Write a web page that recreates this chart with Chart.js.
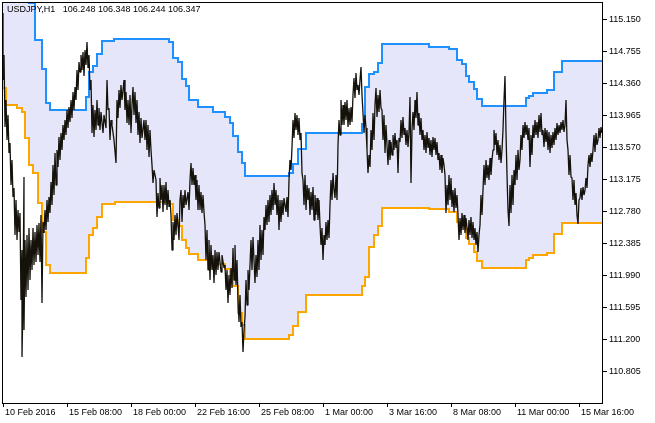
<!DOCTYPE html>
<html>
<head>
<meta charset="utf-8">
<script src="https://cdn.jsdelivr.net/npm/chart.js@4.4.1/dist/chart.umd.min.js"></script>
<style>
  html, body { margin: 0; padding: 0; background: #fff; }
  canvas { display: block; }
</style>
</head>
<body>
<canvas id="chart" width="655" height="423"></canvas>
<script>
// header line of the chart window
const symbolTitle = 'USDJPY,H1   106.248 106.348 106.244 106.347';

// visible window, in hourly bars
const firstBar = 2;
const lastBar = 602;

// time axis
const timeTickBars = [3, 67, 131, 195, 259, 323, 387, 451, 515, 579];
const timeTickLabels = ['10 Feb 2016', '15 Feb 08:00', '18 Feb 00:00', '22 Feb 16:00', '25 Feb 08:00',
  '1 Mar 00:00', '3 Mar 16:00', '8 Mar 08:00', '11 Mar 00:00', '15 Mar 16:00'];

// price axis
const priceMin = 110.4216;
const priceMax = 115.3722;
const priceTicks = [115.150, 114.755, 114.360, 113.965, 113.570, 113.175, 112.780, 112.385,
  111.990, 111.595, 111.200, 110.805];

// channel lines [bar, price], value holds from that bar on
const upperBand = [
  [2,115.5],[29,115.36],[35,114.903],[42,114.545],[46,114.125],[50,114.039],[86,114.199],[89,114.508],
  [93,114.582],[97,114.730],[102,114.891],[114,114.915],[169,114.878],[173,114.681],[178,114.632],
  [182,114.422],[186,114.335],[189,114.162],[198,114.076],[213,114.014],[225,113.952],[230,113.878],
  [233,113.718],[238,113.520],[242,113.384],[245,113.224],[289,113.261],[293,113.372],[298,113.557],
  [306,113.755],[362,113.866],[365,114.323],[369,114.483],[374,114.508],[378,114.619],[382,114.854],
  [429,114.817],[449,114.792],[457,114.656],[462,114.607],[466,114.459],[469,114.384],[474,114.298],
  [477,114.174],[482,114.088],[526,114.187],[529,114.211],[533,114.248],[547,114.286],[554,114.508],
  [562,114.644],[602,114.644]
];
const lowerBand = [
  [2,114.310],[6,114.100],[17,114.063],[22,114.014],[25,113.693],[29,113.360],[33,113.261],[38,112.891],
  [42,112.533],[46,112.125],[50,112.027],[86,112.212],[89,112.496],[93,112.582],[97,112.718],
  [102,112.878],[115,112.903],[170,112.878],[173,112.681],[178,112.607],[182,112.434],[186,112.335],
  [189,112.261],[198,112.187],[213,112.138],[225,112.076],[230,112.002],[233,111.866],[238,111.533],
  [242,111.384],[245,111.212],[289,111.261],[293,111.372],[298,111.545],[306,111.755],[362,111.866],
  [365,111.977],[369,112.347],[374,112.496],[378,112.607],[382,112.829],[429,112.817],[449,112.780],
  [457,112.656],[462,112.619],[466,112.459],[469,112.384],[474,112.286],[477,112.175],[482,112.088],
  [526,112.187],[529,112.212],[533,112.249],[547,112.273],[554,112.508],[562,112.644],[602,112.644]
];

// hourly price [bar, price]
const closePrice = [
  [2,115.088],[3,115.237],[3,114.409],[4,114.718],[5,113.829],[6,114.162],[7,113.668],[8,113.977],
  [9,113.508],[10,113.631],[11,113.113],[12,113.422],[13,112.965],[14,113.076],[15,112.496],[16,112.928],
  [17,112.434],[18,112.804],[19,112.533],[20,112.767],[21,111.693],[22,112.310],[22,110.989],[23,111.693],
  [24,113.212],[24,111.323],[25,112.434],[26,111.730],[27,112.496],[28,111.817],[29,112.582],[30,111.940],
  [31,112.434],[32,112.064],[33,112.582],[34,112.125],[35,112.533],[36,112.162],[37,112.619],[38,112.249],
  [39,112.644],[40,112.162],[41,112.742],[42,111.656],[43,112.656],[44,112.520],[45,112.804],[46,112.557],
  [47,112.928],[48,112.656],[49,112.965],[50,112.767],[51,113.150],[52,112.866],[53,113.360],[54,112.989],
  [55,113.508],[56,113.113],[57,113.545],[58,113.335],[59,113.705],[60,113.422],
  [61,113.755],[62,113.545],[63,113.853],[64,113.668],[65,113.915],[66,113.730],[67,114.039],[68,113.816],
  [69,114.076],[70,113.890],[71,114.162],[72,113.940],[73,114.261],[74,114.039],[75,114.323],[76,114.162],
  [77,114.533],[78,114.286],[79,114.632],[80,114.508],[81,114.718],[82,114.533],[83,114.755],[84,114.459],
  [85,114.780],[86,114.595],[87,114.879],[88,114.558],[89,114.718],[90,114.286],[91,114.409],[92,113.755],
  [93,114.100],[94,113.705],[95,114.039],[96,113.792],[97,114.162],[98,113.853],[99,114.063],[100,113.792],
  [101,114.014],[103,113.755],[104,113.977],[106,113.816],[107,114.409],[108,114.039],[109,114.063],
  [110,113.668],[111,113.915],[112,113.853],[114,113.668],[116,113.384],[117,114.162],[118,113.940],
  [119,114.286],[120,114.063],[121,114.348],[122,114.162],[124,114.409],[125,114.039],[126,114.261],
  [127,113.878],[128,114.162],[129,113.853],[130,114.224],
  [131,113.755],[132,114.100],[133,114.323],[134,113.977],[135,114.261],[136,113.878],[137,114.162],
  [138,113.730],[139,114.014],[140,113.631],[141,113.940],[142,113.693],[144,113.915],[145,113.668],
  [146,113.915],[147,113.545],[148,113.853],[149,113.459],[150,113.792],[151,113.545],[152,113.360],
  [153,113.137],[154,113.298],[156,113.175],[157,112.718],[158,113.014],[159,112.829],[160,113.199],
  [161,112.928],[162,113.113],[163,112.780],[164,113.113],[165,112.866],[166,113.150],[167,112.804],
  [168,113.051],[169,112.841],[170,112.928],[171,112.742],[172,112.310],[173,112.656],[174,112.434],
  [175,112.742],[176,112.496],[177,112.767],[178,112.619],[179,112.434],[180,112.928],[181,113.051],
  [182,112.656],[183,112.989],[184,112.829],[185,113.051],[186,112.866],[188,113.026],[189,112.804],
  [190,113.175],[191,113.384],[192,113.113],[193,113.323],[194,113.113],[195,113.236],[196,112.928],
  [197,113.175],[198,112.804],[199,113.113],[200,112.804],
  [201,113.026],[202,112.767],[203,112.989],[204,112.780],[205,112.619],[206,112.187],[207,112.557],
  [208,112.064],[209,112.434],[210,111.940],[211,112.372],[212,112.064],[213,112.249],[214,111.903],
  [215,112.310],[216,112.002],[217,112.286],[218,112.064],[219,112.286],[221,112.039],[222,112.249],
  [224,112.088],[225,112.125],[226,111.817],[227,112.064],[228,111.656],[229,112.002],[230,111.755],
  [231,112.088],[232,111.841],[233,112.335],[234,111.940],[235,112.372],[236,111.878],[237,112.187],
  [238,111.693],[239,111.421],[240,111.755],[241,111.360],[242,111.421],[243,111.051],[244,111.323],
  [245,111.483],[246,111.940],[247,111.631],[248,112.064],[249,111.817],[250,112.125],[251,112.434],
  [252,112.064],[253,112.471],[254,112.187],[255,111.903],[256,112.249],[257,111.977],[258,112.434],
  [259,112.064],[260,112.619],
  [261,112.187],[262,112.557],[263,112.249],[264,112.718],[265,112.557],[266,112.866],[267,112.619],
  [268,112.928],[269,112.656],[270,112.989],[271,112.742],[272,113.051],[273,112.804],[274,113.137],
  [275,112.866],[276,113.051],[277,112.742],[278,112.989],[279,112.557],[280,112.928],[281,112.656],
  [282,112.928],[283,112.742],[284,112.952],[286,112.780],[287,112.965],[288,112.718],[289,113.175],
  [290,113.422],[291,113.298],[292,113.582],[293,113.915],[294,113.693],[295,114.002],[296,113.792],
  [297,113.977],[298,113.730],[299,113.940],[300,113.668],[301,113.755],[302,113.261],[303,113.175],
  [304,112.866],[305,113.236],[306,112.804],[307,113.113],[308,112.928],[309,113.076],[310,112.742],
  [311,113.026],[312,112.804],[313,113.088],[314,112.681],[315,112.989],[316,112.742],[317,112.952],
  [318,112.681],[319,112.928],[320,112.619],[321,112.372],[322,112.582],[323,112.187],[324,112.496],
  [325,112.372],[326,112.656],[327,112.434],[328,112.681],[329,112.459],[330,112.866],
  [331,113.175],[332,112.928],[333,113.261],[334,113.051],[335,112.952],[336,113.236],[337,112.928],
  [338,113.607],[339,113.915],[340,113.730],[341,114.162],[342,113.853],[343,114.100],[344,113.853],
  [345,114.137],[346,113.915],[347,114.162],[348,113.829],[349,114.063],[350,113.853],[351,114.076],
  [352,113.890],[353,114.224],[354,114.434],[355,114.187],[356,114.496],[357,114.286],[358,114.348],
  [359,114.224],[360,114.409],[361,114.570],[362,114.224],[363,114.002],[364,113.755],[365,113.977],
  [366,113.816],[367,113.545],[368,113.261],[369,113.483],[370,113.335],[371,113.792],[372,113.545],
  [373,114.002],[374,113.668],[375,114.100],[376,114.311],[377,113.952],[378,114.224],[379,114.014],
  [380,114.286],[381,114.063],[382,114.039],[383,113.668],[384,113.977],[385,113.508],[386,113.853],
  [387,113.607],[388,113.360],[389,113.668],[390,113.422],[391,113.644],[392,113.483],[393,113.730],
  [394,113.545],[395,113.755],[396,113.570],[397,113.668],[398,113.261],[399,113.693],[400,113.644],
  [401,113.915],[402,113.693],[403,113.952],[404,113.730],[405,113.816],[406,113.607],[407,113.792],
  [408,113.582],[409,113.767],[410,114.199],[411,113.137],[412,113.792],[413,114.014],[414,113.792],
  [415,114.162],[416,113.940],[417,114.261],[418,113.853],[419,114.002],[420,113.730],[421,113.940],
  [422,113.668],[423,113.792],[424,113.545],[425,113.730],[426,113.508],[427,113.767],[428,113.570],
  [429,113.693],[430,113.483],[431,113.668],[432,113.459],[433,113.705],[434,113.545],[435,113.693],
  [436,113.483],[437,113.644],[438,113.422],[439,113.508],[440,113.298],[441,113.483],[442,113.261],
  [443,113.446],[444,113.360],[445,113.236],[446,112.767],[447,113.113],[448,112.866],[449,113.236],
  [450,112.928],[451,113.199],[452,112.841],[453,113.051],[454,112.780],[455,113.076],[456,112.829],
  [457,112.989],[458,112.742],[459,112.434],[460,112.705],[461,112.496],[462,112.767],[463,112.557],
  [464,112.742],[465,112.520],[466,112.705],[467,112.582],[468,112.434],[469,112.681],[470,112.496],
  [471,112.718],[472,112.459],[473,112.656],[474,112.434],[475,112.582],[476,112.372],[477,112.533],
  [478,112.286],[479,112.496],[480,112.619],[481,112.989],[482,112.742],[483,113.051],[484,113.360],
  [485,113.113],[486,113.422],[487,113.199],[488,113.360],[489,113.175],[490,113.446],[491,113.236],
  [492,113.422],[493,113.545],[494,113.792],[495,113.607],[496,113.755],[497,113.483],[498,113.668],
  [499,113.422],[500,113.607],[501,113.384],[502,113.545],[503,113.792],[504,114.162],[505,114.459],
  [506,113.755],[507,113.236],[508,112.804],[509,112.607],[510,113.113],[511,112.767],[512,113.236],
  [513,112.866],[514,113.298],[515,113.113],[516,113.483],[517,113.175],[518,113.545],[519,113.298],
  [520,113.422],[521,113.730],[522,113.545],[523,113.853],[524,113.693],[525,113.890],[526,113.730],
  [527,113.853],[528,113.668],[529,113.816],[530,113.335],[531,113.730],[532,113.483],[533,113.853],
  [534,113.693],[535,113.915],[536,113.730],[537,113.890],[538,113.693],[539,113.977],[540,113.767],
  [541,114.002],[542,113.730],[543,113.792],[544,113.582],[545,113.816],[546,113.644],[547,113.792],
  [548,113.545],[549,113.767],[550,113.508],[551,113.730],[552,113.570],[553,113.767],[554,113.607],
  [555,113.816],[556,113.668],[557,113.878],[558,113.730],[559,113.853],[560,113.755],[561,113.890],
  [562,113.792],[563,113.915],[564,113.767],[565,113.853],[566,114.162],[567,113.668],[568,113.545],
  [569,113.236],[570,113.483],[571,113.212],[572,113.199],[573,112.928],[574,113.175],[575,112.866],
  [576,113.014],[577,112.742],[578,112.631],[579,112.928],[580,112.952],[581,113.076],[582,112.928],
  [583,113.088],[584,112.989],[585,113.051],[586,113.199],[587,113.076],[588,113.360],[589,113.483],
  [590,113.335],[591,113.508],[592,113.397],[593,113.545],[594,113.730],[595,113.520],[596,113.755],
  [597,113.607],[598,113.668],[599,113.816],[600,113.693],[601,113.829],[602,113.755]
];

const toPoints = rows => rows.map(r => ({ x: r[0], y: r[1] }));

const FONT = 'Liberation Sans, Arial, sans-serif';
Chart.defaults.font.family = FONT;
Chart.defaults.font.size = 9;
Chart.defaults.color = '#000';

// white page, black frame round the plot, symbol header
const chartDecor = {
  id: 'chartDecor',
  beforeDraw(chart) {
    const c = chart.ctx;
    c.save();
    c.fillStyle = '#fff';
    c.fillRect(0, 0, chart.width, chart.height);
    c.restore();
  },
  afterDatasetsDraw(chart) {
    const c = chart.ctx;
    const a = chart.chartArea;
    c.save();
    c.fillStyle = '#000';
    c.font = '9px ' + FONT;
    c.textBaseline = 'alphabetic';
    c.fillText(symbolTitle, 7, 12);
    c.strokeStyle = '#000';
    c.lineWidth = 1;
    c.strokeRect(a.left + 0.5, a.top + 0.5, a.right - a.left, a.bottom - a.top);
    c.restore();
  }
};

new Chart(document.getElementById('chart'), {
  type: 'line',
  data: {
    datasets: [
      {
        label: 'upper',
        data: toPoints(upperBand),
        borderColor: '#1E90FF',
        borderWidth: 2,
        stepped: 'before',
        pointRadius: 0,
        fill: '+1',
        backgroundColor: 'rgb(230,230,250)',
        order: 1
      },
      {
        label: 'lower',
        data: toPoints(lowerBand),
        borderColor: '#FFA500',
        borderWidth: 2,
        stepped: 'before',
        pointRadius: 0,
        fill: false,
        order: 2
      },
      {
        label: 'USDJPY',
        data: toPoints(closePrice),
        borderColor: '#14120a',
        borderWidth: 1.3,
        borderJoinStyle: 'bevel',
        pointRadius: 0,
        tension: 0,
        fill: false,
        order: 0
      }
    ]
  },
  options: {
    responsive: false,
    animation: false,
    devicePixelRatio: 1,
    layout: { padding: { left: 2, top: 2, right: 0, bottom: 0 } },
    plugins: {
      legend: { display: false },
      tooltip: { enabled: false },
      filler: { drawTime: 'beforeDatasetsDraw' }
    },
    scales: {
      x: {
        type: 'linear',
        position: 'bottom',
        min: firstBar,
        max: lastBar,
        afterBuildTicks: s => { s.ticks = timeTickBars.map(v => ({ value: v })); },
        afterFit: s => { s.height = 20; s.paddingLeft = 0; s.paddingRight = 0; },
        ticks: {
          autoSkip: false,
          maxRotation: 0,
          minRotation: 0,
          align: 'start',
          labelOffset: 2,
          padding: 0,
          callback: v => timeTickLabels[timeTickBars.indexOf(v)]
        },
        grid: { drawOnChartArea: false, tickLength: 4, color: '#000' },
        border: { display: false }
      },
      y: {
        type: 'linear',
        position: 'right',
        min: priceMin,
        max: priceMax,
        afterBuildTicks: s => { s.ticks = priceTicks.map(v => ({ value: v })); },
        afterFit: s => { s.width = 53; s.paddingTop = 0; s.paddingBottom = 0; },
        ticks: {
          autoSkip: false,
          padding: 2,
          callback: v => v.toFixed(3)
        },
        grid: { drawOnChartArea: false, tickLength: 5, color: '#000' },
        border: { display: false }
      }
    }
  },
  plugins: [chartDecor]
});
</script>
</body>
</html>
